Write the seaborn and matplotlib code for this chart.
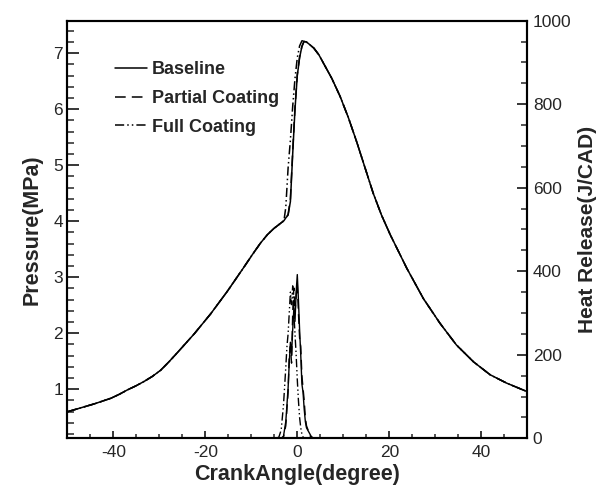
import numpy as np
import pandas as pd
import matplotlib
matplotlib.use("Agg")
import matplotlib.pyplot as plt
import seaborn as sns
from matplotlib.ticker import MultipleLocator

# ---------------- data ----------------
# compression part (common to all cases)
crank_comp = [-49.9, -47.0, -44.1, -40.5, -38.7, -36.9, -35.1, -33.3, -31.5, -29.7,
              -27.9, -26.0, -22.4, -18.8, -15.2, -11.6, -9.8, -8.0, -6.5, -5.1,
              -4.0, -2.9]
p_comp = [0.60, 0.67, 0.74, 0.84, 0.91, 0.99, 1.06, 1.14, 1.23, 1.34,
          1.49, 1.66, 1.99, 2.35, 2.75, 3.18, 3.40, 3.61, 3.76, 3.87,
          3.94, 4.01]
# combustion region
crank_tdc = [-2.5, -2.0, -1.5, -1.0, -0.5, 0.0, 0.5, 1.0, 1.46, 2.0, 2.6, 3.6]
p_tdc_baseline = [4.06, 4.11, 4.35, 5.20, 6.00, 6.60, 6.92, 7.12, 7.21, 7.20, 7.16, 7.09]
p_tdc_partial = [4.06, 4.12, 4.40, 5.25, 6.03, 6.62, 6.93, 7.12, 7.21, 7.20, 7.16, 7.09]
p_tdc_full = [4.25, 4.95, 5.45, 6.05, 6.55, 6.92, 7.13, 7.22, 7.22, 7.20, 7.16, 7.09]
# expansion part (common to all cases)
crank_exp = [4.7, 5.7, 7.5, 9.3, 11.1, 12.9, 14.7, 16.5, 18.3, 20.2, 23.8, 27.4,
             31.0, 34.6, 38.3, 41.9, 45.5, 49.9]
p_exp = [6.97, 6.82, 6.55, 6.23, 5.85, 5.42, 4.96, 4.50, 4.11, 3.76, 3.16, 2.62,
         2.18, 1.79, 1.49, 1.26, 1.11, 0.96]

crank_hr = [-4.5, -4, -3.5, -3, -2.5, -2.25, -2, -1.75, -1.5, -1.25, -1, -0.75, -0.5,
            -0.25, 0, 0.25, 0.5, 0.75, 1, 1.25, 1.5, 1.75, 2, 2.5, 3, 3.5]
hr_baseline = [0, 0, 0, 5, 40, 80, 120, 180, 230, 200, 260, 310, 280,
               350, 392, 330, 260, 200, 130, 110, 70, 40, 25, 15, 5, 0]
hr_partial = [0, 0, 0, 3, 30, 70, 110, 200, 220, 180, 300, 360, 300,
              340, 370, 300, 240, 220, 150, 120, 90, 50, 30, 15, 0, 0]
hr_full = [0, 3, 20, 80, 170, 220, 250, 300, 350, 320, 365, 300, 250,
           200, 140, 90, 50, 25, 10, 3, 0, 0, 0, 0, 0, 0]

labels = ["Baseline", "Partial Coating", "Full Coating"]

# ---------------- style ----------------
sns.set_style("ticks")
plt.rcParams['font.family'] = ['Liberation Sans', 'DejaVu Sans']
plt.rcParams['axes.linewidth'] = 1.5
plt.rcParams['axes.unicode_minus'] = False

fig = plt.figure(figsize=(6.05, 4.93), dpi=100)
ax = fig.add_axes([0.1112, 0.111, 0.7604, 0.847])
ax2 = ax.twinx()

styles = ['-', (0, (7, 4)), (0, (6, 2, 1, 2, 1, 2))]
p_tdc = [p_tdc_baseline, p_tdc_partial, p_tdc_full]
hrs = [hr_baseline, hr_partial, hr_full]

rows_p, rows_h = [], []
for lab, pt, hr in zip(labels, p_tdc, hrs):
    cr = crank_comp + crank_tdc + crank_exp
    pv = p_comp + pt + p_exp
    rows_p.append(pd.DataFrame({"crank": cr, "p": pv, "case": lab}))
    rows_h.append(pd.DataFrame({"crank": crank_hr, "hr": hr, "case": lab}))
dfp = pd.concat(rows_p, ignore_index=True)
dfh = pd.concat(rows_h, ignore_index=True)

for lab, ls in zip(labels, styles):
    sns.lineplot(data=dfp[dfp.case == lab], x="crank", y="p", ax=ax, color='k',
                 linewidth=1.1, linestyle=ls, label=lab, sort=False)
    sns.lineplot(data=dfh[dfh.case == lab], x="crank", y="hr", ax=ax2, color='k',
                 linewidth=1.0, linestyle=ls, legend=False, sort=False)

ax.set_xlim(-50, 50)
ax.set_ylim(0.125, 7.58)
ax2.set_ylim(0, 1000)

ax.xaxis.set_major_locator(MultipleLocator(20))
ax.xaxis.set_minor_locator(MultipleLocator(5))
ax.yaxis.set_minor_locator(MultipleLocator(0.2))
ax2.yaxis.set_major_locator(MultipleLocator(200))
ax2.yaxis.set_minor_locator(MultipleLocator(50))
ax.set_yticks([1, 2, 3, 4, 5, 6, 7])

ax.tick_params(axis='y', which='major', direction='in', length=8.5, width=1.3,
               labelsize=12.5, left=True, right=False, pad=3)
ax.tick_params(axis='y', which='minor', direction='in', length=5, width=1.1,
               left=True, right=False)
ax.tick_params(axis='x', which='major', direction='in', length=5, width=1.3,
               labelsize=12.5, top=False, pad=5)
ax.tick_params(axis='x', which='minor', direction='in', length=3, width=1.1, top=False)
ax2.tick_params(axis='y', which='major', direction='in', length=7, width=1.3,
                labelsize=12.5, pad=4)
ax2.tick_params(axis='y', which='minor', direction='in', length=4, width=1.1)

for a in (ax, ax2):
    for s in a.spines.values():
        s.set_visible(True)
        s.set_linewidth(1.5)
        s.set_color('k')

ax.set_xlabel("CrankAngle(degree)", fontsize=15.5, fontweight='bold', labelpad=3)
ax.set_ylabel("Pressure(MPa)", fontsize=15.5, fontweight='bold', labelpad=8)
ax2.set_ylabel("Heat Release(J/CAD)", fontsize=15, fontweight='bold', labelpad=5)

leg = ax.legend(loc='upper left', bbox_to_anchor=(0.087, 0.92), frameon=False,
                prop={'weight': 'bold', 'size': 13}, handlelength=1.8,
                handletextpad=0.25, labelspacing=0.65, borderaxespad=0)

fig.savefig("out.png", dpi=100)
